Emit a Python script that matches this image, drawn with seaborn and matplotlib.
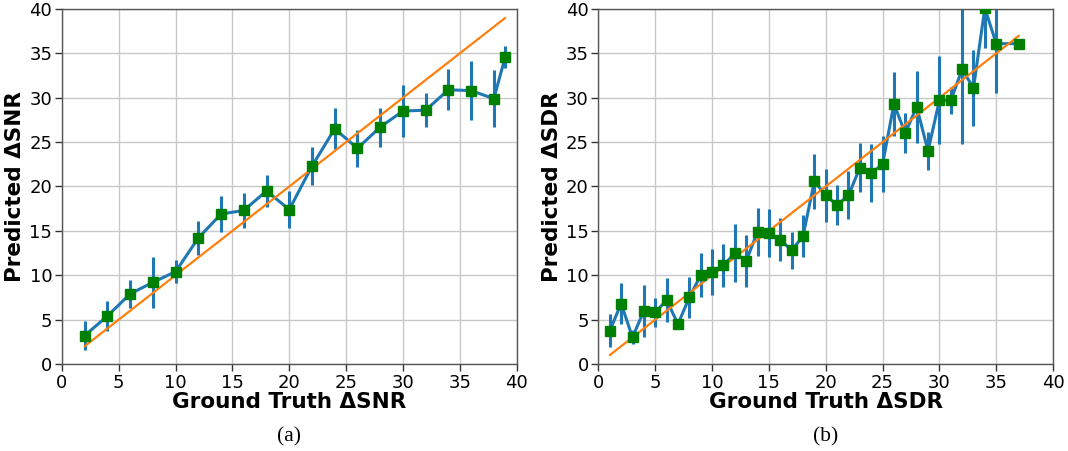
import numpy as np
import pandas as pd
import matplotlib
matplotlib.use('Agg')
import matplotlib.pyplot as plt
import seaborn as sns

# Panel (a): delta SNR
snr_true = [2, 4, 6, 8, 10, 12, 14, 16, 18, 20, 22, 24, 26, 28, 30, 32, 34, 36, 38, 39]
snr_pred = [3.2, 5.4, 7.9, 9.2, 10.4, 14.2, 16.9, 17.3, 19.5, 17.4,
            22.3, 26.5, 24.3, 26.7, 28.5, 28.6, 30.9, 30.8, 29.9, 34.6]
snr_err = [1.65, 1.7, 1.6, 2.9, 1.3, 1.9, 2.0, 2.0, 1.8, 2.1,
           2.1, 2.3, 2.1, 2.2, 2.9, 1.9, 2.3, 3.3, 3.2, 1.2]

# Panel (b): delta SDR
sdr_true = list(range(1, 36)) + [37]
sdr_pred = [3.75, 6.8, 3.0, 6.0, 5.8, 7.2, 4.5, 7.5, 10.0, 10.4,
            11.1, 12.5, 11.6, 14.9, 14.8, 14.0, 12.8, 14.4, 20.6, 19.0,
            17.9, 19.0, 22.1, 21.5, 22.5, 29.3, 26.0, 29.0, 24.0, 29.7,
            29.7, 33.2, 31.1, 40.1, 36.1, 36.1]
sdr_err = [1.85, 2.35, 0.8, 2.95, 1.6, 2.45, 0.6, 2.3, 2.45, 2.6,
           2.4, 3.25, 2.9, 2.7, 2.7, 2.45, 2.05, 2.4, 3.1, 3.0,
           2.25, 2.7, 2.75, 3.3, 3.15, 3.6, 2.25, 4.05, 2.1, 4.95,
           1.5, 8.4, 4.25, 4.5, 5.6, 0.0]

sns.set_style('whitegrid')
plt.rcParams['font.family'] = ['DejaVu Sans']
plt.rcParams['text.color'] = 'black'
plt.rcParams['axes.labelcolor'] = 'black'
plt.rcParams['xtick.color'] = '#333333'
plt.rcParams['ytick.color'] = '#333333'
plt.rcParams['xtick.labelcolor'] = 'black'
plt.rcParams['ytick.labelcolor'] = 'black'

fig, axes = plt.subplots(1, 2, figsize=(10.68, 4.51), dpi=100)
fig.subplots_adjust(left=0.058, right=0.986, top=0.98, bottom=0.193, wspace=0.18)


def draw(ax, x, y, err, label):
    df = pd.DataFrame({'truth': x, 'pred': y})
    ax.errorbar(x, y, yerr=err, fmt='none', ecolor='#1f77b4', elinewidth=2.2, zorder=2)
    sns.lineplot(data=df, x='truth', y='pred', ax=ax, color='#1f77b4', linewidth=2.2, zorder=2)
    ideal = pd.DataFrame({'truth': [x[0], x[-1]], 'pred': [x[0], x[-1]]})
    sns.lineplot(data=ideal, x='truth', y='pred', ax=ax, color='#ff7f0e', linewidth=1.6, zorder=3)
    ax.plot(x, y, linestyle='none', marker='s', markersize=6.5, color='green', zorder=4)
    ax.set_xlim(0, 40)
    ax.set_ylim(0, 40)
    ax.set_xticks(range(0, 41, 5))
    ax.set_yticks(range(0, 41, 5))
    ax.set_xlabel(f'Ground Truth \u0394{label}', fontsize=15.5, fontweight='bold', labelpad=0)
    ax.set_ylabel(f'Predicted \u0394{label}', fontsize=15.5, fontweight='bold', labelpad=3)
    ax.tick_params(labelsize=13, length=5, width=1, pad=2, bottom=True, left=True)
    ax.grid(color='#c8c8c8', linewidth=1)
    for s in ax.spines.values():
        s.set_color('#555555')
        s.set_linewidth(1)


draw(axes[0], snr_true, snr_pred, snr_err, 'SNR')
draw(axes[1], sdr_true, sdr_pred, sdr_err, 'SDR')

for ax, cap in zip(axes, ['(a)', '(b)']):
    pos = ax.get_position()
    fig.text((pos.x0 + pos.x1) / 2, 0.031, cap, ha='center', va='center',
             fontsize=15.5, family='Liberation Serif')

fig.savefig('out.png', dpi=100)
